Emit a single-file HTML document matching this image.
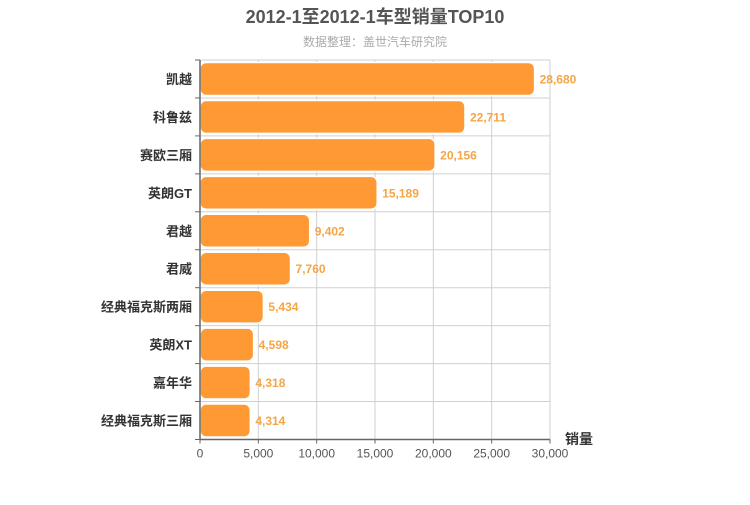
<!DOCTYPE html>
<html><head><meta charset="utf-8"><style>
body{margin:0;background:#fff;font-family:"Liberation Sans","Noto Sans CJK SC",sans-serif}
</style></head><body>
<svg width="750" height="500" xmlns="http://www.w3.org/2000/svg">
<text x="375" y="23" text-anchor="middle" font-size="18" font-weight="bold" fill="#555" font-family="Liberation Sans,Noto Sans CJK SC,sans-serif">2012-1至2012-1车型销量TOP10</text>
<text x="375" y="46" text-anchor="middle" font-size="12" fill="#aaa" font-family="Liberation Sans,Noto Sans CJK SC,sans-serif">数据整理：盖世汽车研究院</text>
<g id="grid"></g><g id="bars"></g><g id="axes"></g>
</svg>
<script>
const categories=["凯越","科鲁兹","赛欧三厢","英朗GT","君越","君威","经典福克斯两厢","英朗XT","嘉年华","经典福克斯三厢"];
const values=[28680,22711,20156,15189,9402,7760,5434,4598,4318,4314];
const ticks=[0,5000,10000,15000,20000,25000,30000];
const NS="http://www.w3.org/2000/svg";
const L=200,R=550,T=60,B=439.5,max=30000;
const x=v=>L+(R-L)*v/max;
const band=(B-T)/categories.length;
const y=i=>T+band*i;
function el(t,a,p){const e=document.createElementNS(NS,t);for(const k in a)e.setAttribute(k,a[k]);p.appendChild(e);return e;}
const g=document.getElementById('grid'),bs=document.getElementById('bars'),ax=document.getElementById('axes');
const F="Liberation Sans,Noto Sans CJK SC,sans-serif";
ticks.forEach(t=>{if(t>0){const l=el('line',{x1:x(t),x2:x(t),y1:T,y2:B,stroke:'#d0d0d0'},g);}
const tx=el('text',{x:x(t),y:B+18,'text-anchor':'middle','font-size':12,fill:'#555','font-family':F},ax);tx.textContent=t.toLocaleString('en-US');
const tk=el('line',{x1:x(t),x2:x(t),y1:B,y2:B+4,stroke:'#666'},ax);});
for(let i=0;i<=categories.length;i++){const l=el('line',{x1:L,x2:R,y1:y(i),y2:y(i),stroke:'#d0d0d0'},g);
const tk=el('line',{x1:L-5,x2:L,y1:y(i),y2:y(i),stroke:'#666'},ax);}
categories.forEach((c,i)=>{const w=x(values[i])-L;
const r=el('rect',{x:L,y:y(i)+2.5,width:w,height:band-5,rx:6,ry:6,fill:'#ff9933',stroke:'#fff','stroke-width':1.5},bs);
const v=el('text',{x:x(values[i])+5,y:y(i)+band/2+4.5,'font-size':12,'font-weight':'bold',fill:'#f5a545','font-family':F},bs);v.textContent=values[i].toLocaleString('en-US');
const t=el('text',{x:L-8,y:y(i)+band/2+5,'text-anchor':'end','font-size':13,'font-weight':'bold',fill:'#333','font-family':F},ax);t.textContent=c;});
const ya=el('line',{x1:L,x2:L,y1:T,y2:B,stroke:'#666','stroke-width':1.5},ax);
const xa=el('line',{x1:L,x2:R,y1:B,y2:B,stroke:'#666','stroke-width':1.5},ax);
const at=el('text',{x:565,y:444,'font-size':14,'font-weight':'bold',fill:'#333','font-family':F},ax);at.textContent='销量';
</script>
</body></html>
